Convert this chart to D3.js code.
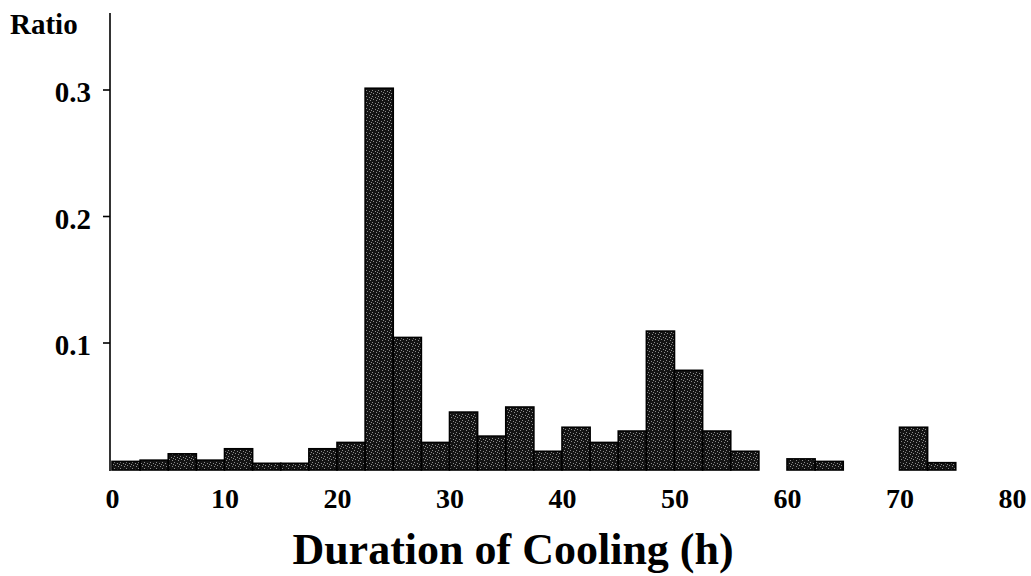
<!DOCTYPE html>
<html>
<head>
    <meta charset="utf-8">
    <title>Duration of Cooling</title>
    <script src="https://cdn.jsdelivr.net/npm/d3@7"></script>
    <style>
        body { margin: 0; background: #fff; }
        text { font-family: "Liberation Serif", "Times New Roman", serif; font-weight: bold; fill: #000; }
    </style>
</head>
<body>
<svg id="chart"></svg>
<script>
    // bin start (h), each bin is 2.5 h wide
    let binStarts = [0, 2.5, 5, 7.5, 10, 12.5, 15, 17.5, 20, 22.5, 25, 27.5, 30, 32.5, 35, 37.5,
        40, 42.5, 45, 47.5, 50, 52.5, 55, 57.5, 60, 62.5, 65, 67.5, 70, 72.5, 75, 77.5];
    let ratios = [0.006, 0.007, 0.012, 0.007, 0.016, 0.0045, 0.0045, 0.016, 0.021, 0.301, 0.104, 0.021,
        0.045, 0.026, 0.049, 0.014, 0.033, 0.021, 0.030, 0.109, 0.078, 0.030, 0.014, 0,
        0.008, 0.006, 0, 0, 0.033, 0.005, 0, 0];
    let binWidth = 2.5;
    let xTicks = [0, 10, 20, 30, 40, 50, 60, 70, 80];
    let yTicks = [0.1, 0.2, 0.3];

    let WIDTH = 1031, HEIGHT = 576;
    let svg = d3.select("#chart").attr("width", WIDTH).attr("height", HEIGHT);

    let xScale = d3.scaleLinear().domain([0, 80]).range([112, 1012]);
    let yScale = d3.scaleLinear().domain([0, 0.3]).range([469, 89.5]);

    // speckled dark fill like the scanned print
    let pat = svg.append("defs").append("pattern")
        .attr("id", "speckle").attr("width", 6).attr("height", 6)
        .attr("patternUnits", "userSpaceOnUse");
    pat.append("rect").attr("width", 6).attr("height", 6).attr("fill", "#141414");
    [[0, 0], [3, 1], [1, 3], [4, 4], [5, 2]].forEach(p => {
        pat.append("rect").attr("x", p[0]).attr("y", p[1]).attr("width", 1).attr("height", 1).attr("fill", "#8c8c8c");
    });

    let data = binStarts.map((s, i) => ({ start: s, value: ratios[i] })).filter(d => d.value > 0);

    // bars
    svg.append("g").selectAll("rect")
        .data(data).enter().append("rect")
        .attr("x", d => xScale(d.start))
        .attr("width", d => xScale(d.start + binWidth) - xScale(d.start))
        .attr("y", d => yScale(d.value))
        .attr("height", d => yScale(0) - yScale(d.value) + 1)
        .attr("fill", "url(#speckle)")
        .attr("stroke", "#000")
        .attr("stroke-width", 1.6);

    // y axis
    let yAxis = svg.append("g")
        .attr("transform", "translate(110,0)")
        .call(d3.axisLeft(yScale).tickValues(yTicks).tickSize(7).tickPadding(12).tickFormat(d3.format(".1f")));
    yAxis.select(".domain").attr("d", "M0,13V471").attr("stroke-width", 1.6);
    yAxis.selectAll(".tick line").attr("stroke-width", 1.6);
    yAxis.selectAll(".tick text").attr("font-size", 29).attr("font-family", null).attr("dy", "0.42em");

    // x tick labels (no axis line)
    let xAxis = svg.append("g")
        .attr("transform", "translate(0,470)")
        .call(d3.axisBottom(xScale).tickValues(xTicks).tickSize(0).tickPadding(18));
    xAxis.select(".domain").remove();
    xAxis.selectAll(".tick text").attr("font-size", 28).attr("font-family", null);

    svg.append("text")
        .attr("x", 10).attr("y", 34)
        .attr("font-size", 29)
        .text("Ratio");

    svg.append("text")
        .attr("x", 513).attr("y", 564)
        .attr("text-anchor", "middle")
        .attr("font-size", 44)
        .text("Duration of Cooling (h)");
</script>
</body>
</html>
